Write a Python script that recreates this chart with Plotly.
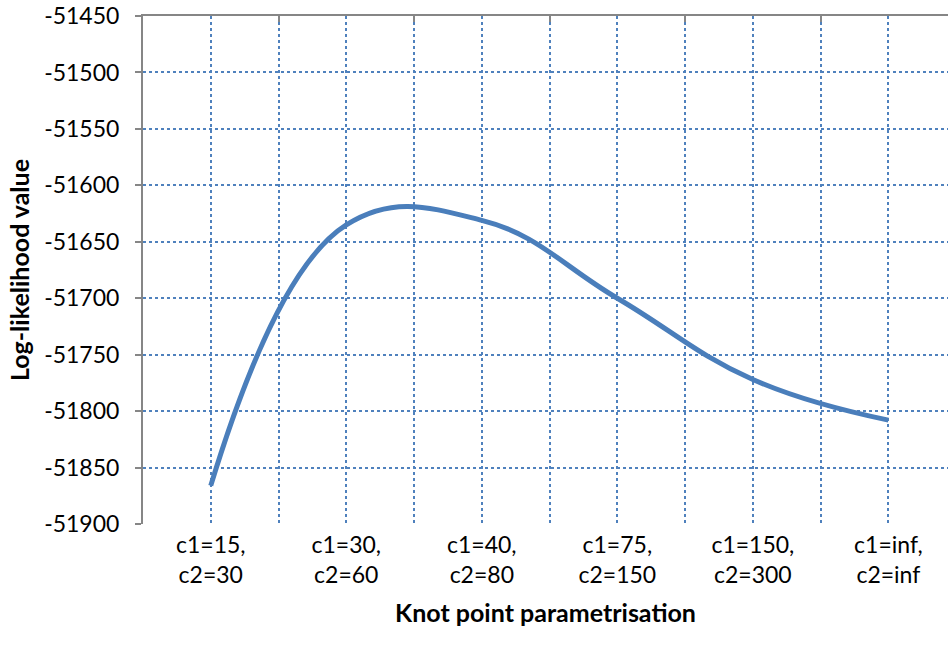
import plotly.graph_objects as go

categories = ["c1=15,<br>c2=30", "c1=30,<br>c2=60", "c1=40,<br>c2=80",
              "c1=75,<br>c2=150", "c1=150,<br>c2=300", "c1=inf,<br>c2=inf"]
loglik = [-51866, -51635, -51631, -51700, -51772, -51808]
y_ticks = list(range(-51900, -51449, 50))

x_idx = list(range(len(categories)))
# tick positions: category centres (labelled) and boundaries (blank labels)
tickvals = []
ticktext = []
for i, c in enumerate(categories):
    tickvals += [i - 0.5, i]
    ticktext += ["", c]
tickvals.append(len(categories) - 0.5)
ticktext.append("")
boundaries = [i + 0.5 for i in range(len(categories) - 1)]

BLUE = "#4a7ebb"
GRID = "#4f81bd"
GRAY = "#868686"
FONT = "Lato"
TICK_SIZE = 23
TITLE_SIZE = 25

fig = go.Figure()
fig.add_trace(go.Scatter(
    x=x_idx, y=loglik, mode="lines",
    line=dict(color=BLUE, width=5, shape="spline", smoothing=1.2),
    showlegend=False, hoverinfo="skip"))
fig.add_trace(go.Scatter(
    x=x_idx, y=loglik, mode="lines", xaxis="x2",
    line=dict(color="rgba(0,0,0,0)", width=0),
    showlegend=False, hoverinfo="skip"))

fig.update_layout(
    width=948, height=655,
    margin=dict(l=143, r=0, t=16, b=131),
    plot_bgcolor="white", paper_bgcolor="white",
    font=dict(family=FONT, color="#000000", size=TICK_SIZE),
    xaxis=dict(
        range=[-0.5, 5.44],
        tickmode="array", tickvals=tickvals, ticktext=ticktext,
        showgrid=True, gridcolor=GRID, griddash="dot", gridwidth=2,
        showline=False, zeroline=False, ticks="",
        ticklabelstandoff=5, ticklabeloverflow="allow",
        tickfont=dict(size=TICK_SIZE, family=FONT),
        title=dict(text="<b>Knot point parametrisation</b>",
                   font=dict(size=TITLE_SIZE, family=FONT), standoff=17),
    ),
    xaxis2=dict(
        overlaying="x", side="top", matches="x",
        tickmode="array", tickvals=boundaries,
        ticks="inside", ticklen=6, tickwidth=2, tickcolor=GRAY,
        showticklabels=False, showgrid=False, zeroline=False,
        showline=True, linecolor=GRAY, linewidth=2,
    ),
    yaxis=dict(
        range=[-51900, -51450],
        tickmode="array", tickvals=y_ticks,
        ticktext=[str(v) for v in y_ticks],
        showgrid=True, gridcolor=GRID, griddash="dot", gridwidth=2,
        showline=True, linecolor=GRAY, linewidth=2,
        ticks="outside", ticklen=6, tickwidth=2, tickcolor=GRAY,
        zeroline=False,
        ticklabelstandoff=11, ticklabeloverflow="allow",
        tickfont=dict(size=TICK_SIZE, family=FONT),
        title=dict(text="<b>Log-likelihood value</b>",
                   font=dict(size=TITLE_SIZE, family=FONT), standoff=7),
    ),
)

fig.write_html("out.html")
